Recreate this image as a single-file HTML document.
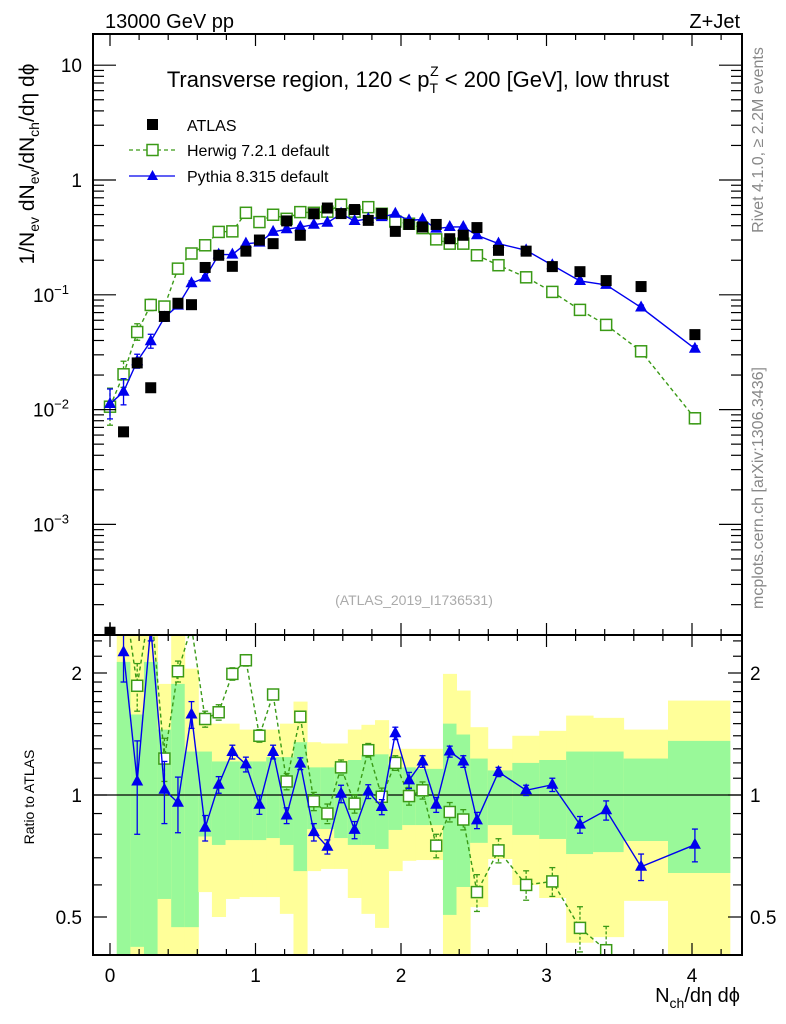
<!DOCTYPE html>
<html><head><meta charset="utf-8"><style>
html,body{margin:0;background:#fff;overflow:hidden}
svg{display:block;font-family:"Liberation Sans",sans-serif}
</style></head><body>
<svg id="c" width="786" height="1024" viewBox="0 0 786 1024" xmlns="http://www.w3.org/2000/svg">
<defs>
<clipPath id="clipMain"><rect x="93" y="34" width="649" height="601"/></clipPath>
<clipPath id="clipRatio"><rect x="93" y="635" width="649" height="320"/></clipPath>
</defs>
<g id="bands" clip-path="url(#clipRatio)"></g>
<g id="ratio" clip-path="url(#clipRatio)"></g>
<g id="main" clip-path="url(#clipMain)"></g>
<g id="axes"></g>
<text x="105" y="28" font-size="20">13000 GeV pp</text>
<text x="740" y="28" font-size="20" text-anchor="end">Z+Jet</text>
<text x="418" y="87" font-size="22" text-anchor="middle">Transverse region, 120 &lt; p<tspan font-size="14" dy="6">T</tspan><tspan font-size="14" dx="-8" dy="-17">Z</tspan><tspan dy="11"> &lt; 200 [GeV], low thrust</tspan></text>
<g>
<rect x="147" y="119" width="11" height="11" fill="#000"/>
<text x="187" y="131" font-size="16">ATLAS</text>
<line x1="129" y1="150" x2="175" y2="150" stroke="#3a9a16" stroke-width="1.3" stroke-dasharray="4,3"/>
<rect x="147" y="144.5" width="11" height="11" fill="#fff" stroke="#3a9a16" stroke-width="1.5"/>
<text x="187" y="156" font-size="16">Herwig 7.2.1 default</text>
<line x1="129" y1="176" x2="175" y2="176" stroke="#0000ee" stroke-width="1.3"/>
<path d="M152.5,170 L158,180 L147,180 Z" fill="#0000ee"/>
<text x="187" y="182" font-size="16">Pythia 8.315 default</text>
</g>
<text x="414" y="605" font-size="14" fill="#aaa" text-anchor="middle">(ATLAS_2019_I1736531)</text>
<text transform="translate(763,140) rotate(-90)" font-size="16" fill="#888" text-anchor="middle">Rivet 4.1.0, ≥ 2.2M events</text>
<text transform="translate(763,488) rotate(-90)" font-size="16" fill="#888" text-anchor="middle">mcplots.cern.ch [arXiv:1306.3436]</text>
<text transform="translate(34,164) rotate(-90)" font-size="21" text-anchor="middle">1/N<tspan font-size="14" dy="5">ev</tspan><tspan dy="-5"> dN</tspan><tspan font-size="14" dy="5">ev</tspan><tspan dy="-5">/dN</tspan><tspan font-size="14" dy="5">ch</tspan><tspan dy="-5">/dη dϕ</tspan></text>
<text transform="translate(34,797) rotate(-90)" font-size="14" text-anchor="middle">Ratio to ATLAS</text>
<text x="740" y="1002" font-size="20" text-anchor="end">N<tspan font-size="14" dy="6">ch</tspan><tspan dy="-6">/dη dϕ</tspan></text>
</svg>
<script>
const xVals=[0,0.093,0.187,0.280,0.374,0.467,0.560,0.654,0.747,0.841,0.934,1.027,1.121,1.214,1.308,1.401,1.494,1.588,1.681,1.775,1.868,1.961,2.055,2.148,2.242,2.335,2.428,2.522,2.67,2.86,3.04,3.23,3.41,3.65,4.02];
const atlasVals=[0.000115,0.0064,0.0255,0.0155,0.0648,0.0844,0.082,0.173,0.221,0.177,0.24,0.30,0.279,0.44,0.33,0.508,0.57,0.51,0.553,0.445,0.51,0.357,0.41,0.39,0.41,0.308,0.33,0.385,0.244,0.24,0.176,0.159,0.133,0.118,0.045];
const herwigVals=[0.0106,0.0203,0.0474,0.0816,0.079,0.169,0.229,0.27,0.353,0.357,0.518,0.43,0.498,0.459,0.525,0.518,0.53,0.608,0.53,0.58,0.508,0.435,0.416,0.381,0.304,0.279,0.279,0.221,0.181,0.142,0.106,0.0739,0.0547,0.0322,0.0084];
const pythiaVals=[0.0112,0.0143,0.0264,0.0394,0.0634,0.0805,0.126,0.141,0.224,0.224,0.279,0.285,0.353,0.372,0.389,0.408,0.424,0.508,0.439,0.459,0.475,0.508,0.445,0.453,0.377,0.39,0.39,0.33,0.279,0.244,0.181,0.132,0.122,0.0775,0.0339];
const herwigRelErr=[0.45,0.3,0.18,0.12,0.1,0.06,0.06,0.05,0.04,0.04,0.03,0.03,0.03,0.03,0.03,0.03,0.03,0.03,0.03,0.03,0.03,0.03,0.03,0.03,0.03,0.03,0.03,0.03,0.03,0.03,0.04,0.05,0.07,0.08,0.12];
const pythiaRelErr=[0.35,0.3,0.15,0.15,0.08,0.06,0.05,0.04,0.04,0.03,0.03,0.03,0.03,0.03,0.03,0.03,0.03,0.03,0.03,0.03,0.03,0.03,0.03,0.03,0.03,0.03,0.03,0.03,0.03,0.03,0.03,0.04,0.04,0.05,0.06];
const herwigRatio=[null,3.2,1.86,3.0,1.23,2.02,2.6,1.54,1.60,1.99,2.15,1.40,1.77,1.08,1.56,0.965,0.90,1.17,0.952,1.29,0.99,1.20,0.994,1.027,0.75,0.908,0.87,0.576,0.73,0.60,0.612,0.47,0.414,0.30,0.22];
const pythiaRatio=[null,2.25,1.08,2.6,1.03,0.957,1.58,0.83,1.06,1.277,1.19,0.946,1.277,0.89,1.195,0.81,0.745,1.007,0.82,1.02,0.934,1.42,1.087,1.21,0.946,1.28,1.21,0.866,1.14,1.027,1.06,0.845,0.917,0.665,0.754];
const herwigRatioErr=[0,0.3,0.25,0.2,0.15,0.12,0.1,0.07,0.07,0.07,0.07,0.05,0.05,0.05,0.05,0.05,0.05,0.05,0.05,0.05,0.05,0.05,0.05,0.05,0.05,0.05,0.05,0.06,0.05,0.05,0.05,0.06,0.06,0.06,0.06];
const pythiaRatioErr=[0,0.35,0.28,0.2,0.18,0.15,0.12,0.06,0.05,0.05,0.05,0.05,0.05,0.04,0.04,0.04,0.03,0.05,0.04,0.04,0.04,0.05,0.05,0.04,0.04,0.04,0.04,0.04,0.03,0.03,0.04,0.04,0.05,0.05,0.07];
const bandYellowTop=[2.6,2.6,2.6,1.88,2.6,2.05,1.50,1.50,1.50,1.45,1.45,1.45,1.50,1.70,1.35,1.34,1.34,1.45,1.49,1.53,1.30,1.30,1.30,1.30,1.99,1.81,1.47,1.30,1.40,1.44,1.57,1.55,1.45,1.71];
const bandGreenTop=[2.13,1.58,2.13,1.45,1.88,1.28,1.28,1.21,1.21,1.21,1.21,1.24,1.24,1.35,1.17,1.17,1.19,1.22,1.255,1.26,1.17,1.17,1.16,1.16,1.50,1.41,1.23,1.15,1.20,1.22,1.28,1.28,1.23,1.36];
const bandGreenBot=[0.3,0.422,0.3,0.554,0.472,0.472,0.79,0.753,0.774,0.774,0.774,0.783,0.753,0.649,0.824,0.824,0.783,0.753,0.753,0.736,0.82,0.843,0.843,0.843,0.506,0.593,0.762,0.843,0.797,0.779,0.715,0.723,0.77,0.642];
const bandYellowBot=[0.3,0.3,0.3,0.3,0.3,0.3,0.576,0.50,0.554,0.56,0.56,0.56,0.509,0.3,0.649,0.657,0.657,0.557,0.509,0.47,0.649,0.688,0.691,0.691,0.3,0.3,0.529,0.695,0.60,0.557,0.432,0.446,0.548,0.3];
const xTickLabels=["0","1","2","3","4"];
const mainTickLabels=[["10",1],["1",0],["10","-1"],["10","-2"],["10","-3"]];
const ratioTickLabels=["0.5","1","2"];

const NS="http://www.w3.org/2000/svg";
const L=93,R=742,T=34,MB=635,RB=955;
const GREEN="#3a9a16",BLUE="#0000ee";
function X(v){return 110+145.5*v;}
function Y(v){return 180-114.8*Math.log10(v);}
function YR(v){return 795-122*Math.log2(v);}
function mk(tag,attrs,parent){const e=document.createElementNS(NS,tag);for(const k in attrs)e.setAttribute(k,attrs[k]);parent.appendChild(e);return e;}
const gB=document.getElementById('bands'),gR=document.getElementById('ratio'),gM=document.getElementById('main'),gA=document.getElementById('axes');

for(let i=1;i<xVals.length;i++){
  const lo=(xVals[i-1]+xVals[i])/2;
  const hi=i<xVals.length-1?(xVals[i]+xVals[i+1])/2:4.26;
  const k=i-1;
  let r=mk('rect',{x:X(lo),y:YR(bandYellowTop[k]),width:X(hi)-X(lo)+0.5,height:YR(bandYellowBot[k])-YR(bandYellowTop[k]),fill:'#ffff99'},gB);
  
  
  r=mk('rect',{x:X(lo),y:YR(bandGreenTop[k]),width:X(hi)-X(lo)+0.5,height:YR(bandGreenBot[k])-YR(bandGreenTop[k]),fill:'#99f999'},gB);
  
  
}
let one=mk('line',{x1:L,x2:R,y1:YR(1),y2:YR(1),stroke:'#000','stroke-width':1.3},gR);



function tri(g,cx,cy,col){return mk('path',{d:`M${cx},${cy-7} L${cx+6},${cy+4} L${cx-6},${cy+4} Z`,fill:col},g);}
function sq(g,cx,cy,col){return mk('rect',{x:cx-5.5,y:cy-5.5,width:11,height:11,fill:'#fff',stroke:col,'stroke-width':1.5},g);}
function errbar(g,cx,y1,y2,col,dash){
  const a={x1:cx,x2:cx,y1:y1,y2:y2,stroke:col,'stroke-width':1.3};if(dash)a['stroke-dasharray']='3,2';
  mk('line',a,g);
  mk('line',{x1:cx-3,x2:cx+3,y1:y1,y2:y1,stroke:col,'stroke-width':1.3},g);
  mk('line',{x1:cx-3,x2:cx+3,y1:y2,y2:y2,stroke:col,'stroke-width':1.3},g);
}
function series(vals,err,col,dash,shape,name){
  const g=mk('g',{},gM);
  
  
  const pts=vals.map((v,i)=>X(xVals[i])+','+Y(v)).join(' ');
  const a={points:pts,fill:'none',stroke:col,'stroke-width':1.4};if(dash)a['stroke-dasharray']='4,3';
  mk('polyline',a,g);
  vals.forEach((v,i)=>{
    errbar(g,X(xVals[i]),Y(v*(1+err[i])),Y(v/(1+err[i])),col,dash);
    const m=shape==='tri'?tri(g,X(xVals[i]),Y(v),col):sq(g,X(xVals[i]),Y(v),col);
    
    
  });
}
series(herwigVals,herwigRelErr,GREEN,true,'sq','herwig-series');
series(pythiaVals,pythiaRelErr,BLUE,false,'tri','pythia-series');
const gAt=mk('g',{},gM);


atlasVals.forEach((v,i)=>{
  const cx=X(xVals[i]),cy=Y(v);
  if(i===0){mk('line',{x1:cx,x2:cx,y1:cy-10,y2:cy+10,stroke:'#000','stroke-width':1.5},gAt);}
  const r=mk('rect',{x:cx-5.5,y:cy-5.5,width:11,height:11,fill:'#000'},gAt);
  
  
});
function rseries(vals,err,col,dash,shape,name){
  const g=mk('g',{},gR);
  
  
  const idx=vals.map((v,i)=>i).filter(i=>vals[i]!==null);
  const a={points:idx.map(i=>X(xVals[i])+','+YR(vals[i])).join(' '),fill:'none',stroke:col,'stroke-width':1.4};if(dash)a['stroke-dasharray']='4,3';
  mk('polyline',a,g);
  idx.forEach(i=>{
    const v=vals[i];
    errbar(g,X(xVals[i]),YR(v+err[i]),YR(Math.max(0.05,v-err[i])),col,dash);
    const m=shape==='tri'?tri(g,X(xVals[i]),YR(v),col):sq(g,X(xVals[i]),YR(v),col);
    
    
  });
}
rseries(herwigRatio,herwigRatioErr,GREEN,true,'sq','herwig-ratio');
rseries(pythiaRatio,pythiaRatioErr,BLUE,false,'tri','pythia-ratio');

let f=mk('rect',{x:L,y:T,width:R-L,height:MB-T,fill:'none',stroke:'#000','stroke-width':2},gA);


f=mk('rect',{x:L,y:MB,width:R-L,height:RB-MB,fill:'none',stroke:'#000','stroke-width':2},gA);


function tk(x1,y1,x2,y2){mk('line',{x1,y1,x2,y2,stroke:'#000','stroke-width':1.2},gA);}
for(let k=0;k<=22;k++){
  const v=k*0.2;const px=X(v);if(px<L||px>R)continue;
  const major=k%5===0,len=major?12:6;
  tk(px,T,px,T+len);tk(px,MB,px,MB-len);tk(px,MB,px,MB+len);tk(px,RB,px,RB-len);
}
xTickLabels.forEach((s,i)=>{
  const t=mk('text',{x:X(i),y:982,'font-size':19,'text-anchor':'middle'},gA);t.textContent=s;
  
  
});
for(let d=-4;d<=1;d++){
  for(let m=1;m<=9;m++){
    const v=m*Math.pow(10,d);const py=Y(v);if(py<T||py>MB)continue;
    const len=m===1?23:11;tk(L,py,L+len,py);tk(R,py,R-len,py);
  }
}
mainTickLabels.forEach((p,i)=>{
  const v=Math.pow(10,1-i);
  const t=mk('text',{x:82,y:Y(v)+7,'font-size':19,'text-anchor':'end'},gA);
  
  
  if(i<2){t.textContent=p[0];}else{t.setAttribute('x',69);t.textContent=p[0];const s=mk('tspan',{'font-size':13,dy:-8},t);s.textContent='−'+String(p[1]).replace('-','');}
});
const rt=[0.4,0.5,0.6,0.7,0.8,0.9,1,1.1,1.2,1.3,1.4,1.5,1.6,1.7,1.8,1.9,2,2.2,2.4];
rt.forEach(v=>{const py=YR(v);if(py<MB||py>RB)return;const len=(v===0.5||v===1||v===2)?14:9;tk(L,py,L+len,py);tk(R,py,R-len,py);});
ratioTickLabels.forEach(s=>{
  const v=parseFloat(s);
  let t=mk('text',{x:82,y:YR(v)+7,'font-size':19,'text-anchor':'end'},gA);t.textContent=s;
  
  
  t=mk('text',{x:750,y:YR(v)+7,'font-size':19},gA);t.textContent=s;
  
  
});
</script>
</body></html>
